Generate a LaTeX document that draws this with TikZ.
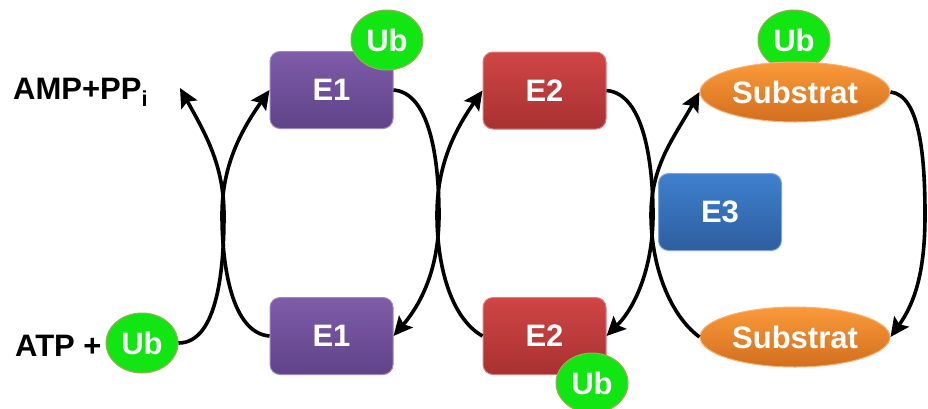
\documentclass[tikz,border=0pt]{standalone}
\usepackage{fontspec}
\setmainfont{Liberation Sans}
\usetikzlibrary{arrows.meta,shapes.geometric}

\definecolor{purpleTop}{HTML}{7E5CA9}
\definecolor{purpleBot}{HTML}{5F4388}
\definecolor{purpleEdge}{HTML}{9D86C2}
\definecolor{redTop}{HTML}{D04545}
\definecolor{redBot}{HTML}{A83131}
\definecolor{redEdge}{HTML}{DA7E7E}
\definecolor{blueTop}{HTML}{3F80CE}
\definecolor{blueBot}{HTML}{2D5E9F}
\definecolor{blueEdge}{HTML}{7FA6D9}
\definecolor{orangeTop}{HTML}{FB9A3A}
\definecolor{orangeBot}{HTML}{D26E1E}
\definecolor{orangeEdge}{HTML}{F7B274}
\definecolor{ubGreen}{HTML}{12E612}
\definecolor{ubEdge}{HTML}{A8A55C}

\begin{document}
\begin{tikzpicture}[x=1pt,y=-1pt,
  lbl/.style={font=\bfseries\fontsize{31}{36}\selectfont, inner sep=0pt},
  enz/.style={lbl, text=white, rounded corners=10pt, minimum width=123pt,
    minimum height=77pt, draw, line width=1pt},
  purplebox/.style={enz, draw=purpleEdge, top color=purpleTop, bottom color=purpleBot},
  redbox/.style={enz, draw=redEdge, top color=redTop, bottom color=redBot},
  bluebox/.style={enz, draw=blueEdge, top color=blueTop, bottom color=blueBot},
  subst/.style={lbl, text=white, ellipse, minimum width=190pt, minimum height=60pt,
    draw=orangeEdge, line width=1pt, top color=orangeTop, bottom color=orangeBot},
  ub/.style={lbl, text=white, ellipse, minimum width=72pt, minimum height=60pt,
    draw=ubEdge, line width=1pt, fill=ubGreen},
  conn/.style={line width=3.6pt, -{Stealth[length=19pt,width=18pt,inset=3.5pt]}}
]
\fill[white] (0,0) rectangle (928,408);
\useasboundingbox (0,0) rectangle (928,408);

% side labels
\node[lbl, anchor=base west] (amp) at (13,99) {AMP+PP\textsubscript{i}};
\node[lbl, anchor=base west] (atp) at (15,356) {ATP +};
\node[ub] (ubA) at (142,343) {Ub};

% enzymes
\node[purplebox] (e1t) at (331.5,90) {E1};
\node[ub] (ubE1) at (387,40) {Ub};
\node[purplebox] (e1b) at (331.5,336) {E1};

\node[redbox] (e2t) at (544.5,90.5) {E2};
\node[redbox] (e2b) at (544.5,336) {E2};
\node[ub] (ubE2) at (592,383) {Ub};

\node[bluebox] (e3) at (720,212) {E3};

% substrate
\node[ub] (ubS) at (794,40) {Ub};
\node[subst] (s1) at (795,92) {Substrat};
\node[subst] (s2) at (795,337) {Substrat};

% turning points of the coupled arrows
\coordinate (ampin) at (180,88);
\coordinate (xl1) at (224,215);
\coordinate (xl2) at (222,215);
\coordinate (xm1) at (439,215);
\coordinate (xm2) at (437,215);
\coordinate (xr1) at (653,215);
\coordinate (xr2) at (651,215);
\coordinate (xf) at (925,215);

% E1 activation
\draw[conn] (ubA.east) .. controls +(40,0) and +(0,50) .. (xl1)
  .. controls +(0,-50) and +(25,45) .. (ampin);
\draw[conn] (e1b.west) .. controls +(-38,-3) and +(0,50) .. (xl2)
  .. controls +(0,-50) and +(-28,40) .. (e1t.west);

% transfer E1 -> E2
\draw[conn] (e1t.east) .. controls +(38,3) and +(0,-50) .. (xm1)
  .. controls +(0,50) and +(30,-35) .. (e1b.east);
\draw[conn] (e2b.west) .. controls +(-32,-18) and +(0,50) .. (xm2)
  .. controls +(0,-50) and +(-28,40) .. (e2t.west);

% transfer to the substrate
\draw[conn] (e2t.east) .. controls +(38,3) and +(0,-50) .. (xr1)
  .. controls +(0,50) and +(30,-30) .. (e2b.east);
\draw[conn] (s2.west) .. controls +(-30,-22) and +(0,50) .. (xr2)
  .. controls +(0,-50) and +(-25,45) .. (s1.west);

% release
\draw[conn] (s1.east) .. controls +(30,3) and +(0,-55) .. (xf)
  .. controls +(0,55) and +(25,-35) .. (s2.east);
\end{tikzpicture}
\end{document}
